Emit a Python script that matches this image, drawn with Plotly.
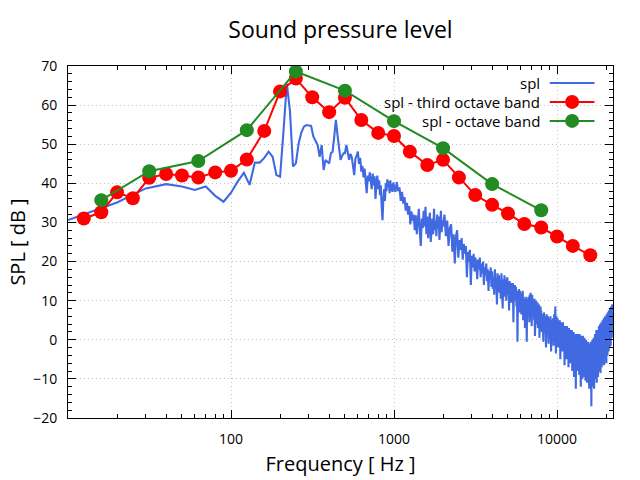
import numpy as np
import plotly.graph_objects as go

# ---------------- data ----------------
# narrow-band spectrum (10 Hz bins, decimated at higher frequencies)
spl_10_490 = [30.6, 35.1, 38.7, 39.8, 39.2, 38.3, 39.2, 36.8, 35.3, 37.6,
              40.5, 42.7, 39.6, 45.3, 45.3, 46.5, 48.1, 46.8, 42.1, 41.7,
              53.5, 65.5, 58.5, 44.3, 45.1, 50.2, 53.0, 54.5, 54.9, 54.8,
              54.7, 52.0, 50.7, 49.8, 46.8, 49.8, 43.4, 46.0, 45.5, 45.1,
              47.7, 48.1, 52.0, 56.2, 52.4, 49.0, 46.0, 47.0, 47.7]
spl_500_990 = [47.7, 49.8, 48.0, 46.0, 47.5, 46.8, 44.5, 42.1, 46.4, 47.0,
               48.1, 45.0, 46.5, 43.0, 44.5, 41.5, 43.8, 39.0, 37.5, 42.0,
               40.5, 42.8, 41.0, 38.5, 42.5, 39.5, 41.8, 36.0, 40.0, 42.0,
               38.5, 40.8, 37.0, 39.5, 34.0, 30.6, 36.0, 38.5, 35.5, 40.0,
               38.0, 41.0, 39.0, 40.5, 37.5, 40.8, 38.0, 39.8, 37.8, 40.2]
spl_1k_2k = [39.5, 37.8, 40.3, 38.0, 39.0, 35.5, 37.8, 34.8, 36.5, 33.0,
             35.0, 32.0, 34.2, 29.5, 32.8, 30.5, 32.0, 28.0, 31.8, 27.0,
             30.5, 33.5, 27.5, 24.0, 31.0, 28.5, 33.0, 29.0, 34.0, 27.0,
             31.5, 26.0, 30.0, 32.5, 25.0, 29.5, 31.0, 27.0, 33.5, 28.0,
             30.5, 26.5, 32.0, 28.5, 31.5, 25.5, 30.0, 33.0, 27.5, 30.5]
spl_2k_4k = [29.0, 32.0, 26.5, 30.5, 24.0, 28.5, 29.5, 22.5, 27.0, 19.5,
             26.5, 28.0, 21.0, 25.5, 23.0, 26.0, 20.5, 24.5, 22.0, 24.0,
             16.0, 22.5, 20.0, 23.0, 14.0, 21.5, 18.5, 22.0, 17.5, 21.0,
             19.0, 15.5, 20.5, 18.0, 21.0, 16.0, 19.5, 17.0, 20.0, 14.0,
             18.5, 16.5, 19.5, 15.0, 18.0, 12.5, 17.5, 15.5, 18.5, 13.5]
spl_4k_8k = [17.5, 13.0, 16.0, 11.5, 18.0, 14.0, 15.5, 9.0, 17.0, 12.5,
             16.5, 12.0, 15.0, 10.5, 17.0, 13.5, 8.0, 15.5, 11.0, 16.5,
             12.5, 15.5, 10.0, 14.5, 16.0, 11.5, 14.0, 7.5, 15.0, 12.0,
             14.5, 9.5, 13.5, 11.0, 14.5, 4.5, 13.0, 10.0, 14.0, 11.5,
             13.5, 8.5, 12.5, -0.5, 12.0, 9.5, 13.0, 7.0, 12.5, 10.0,
             12.0, 6.5, 11.5, 9.0, 12.5, 5.0, 11.0, 8.5, 10.5, 3.0,
             10.5, 7.5, 11.0, -0.5, 10.0, 6.0, 10.5, 8.0, 11.0, 4.5,
             11.5, 7.0, 12.0, 8.5, 11.0, 3.5, 11.5, 6.5, 10.5, 8.0,
             10.0, 5.0, 10.5, 1.0, 9.5, 6.5, 10.0, 4.0, 9.0, 6.0,
             9.5, 3.0, 8.5, 5.5, 9.0, 0.5, 8.0, 4.5, 8.5, 2.5]
spl_8k_16k = [7.5, 2.0, 6.5, -0.5, 7.0, 3.5, 6.0, -2.0, 6.5, 1.5,
              6.0, -1.0, 5.5, 2.5, 6.0, -3.0, 5.0, 1.0, 5.5, -1.5,
              6.5, 0.5, 8.5, -3.5, 6.0, 2.0, 5.5, -2.0, 5.0, 0.5,
              5.0, -5.0, 4.5, 0.0, 4.0, -3.0, 4.5, -1.0, 3.5, -6.5,
              3.5, -2.0, 3.0, -5.0, 3.5, -1.5, 2.5, -7.0, 3.0, -3.0,
              2.5, -6.0, 2.0, -2.5, 2.5, -8.0, 1.5, -4.0, 2.0, -9.5,
              1.5, -3.5, 1.0, -12.5, 1.5, -5.0, 0.5, -8.0, 1.5, -4.0,
              1.0, -9.0, 1.5, -3.0, 0.5, -12.0, 1.0, -6.0, 0.0, -10.0,
              1.0, -5.5, 0.0, -9.5, 0.5, -4.0, -0.5, -10.5, 0.0, -6.0,
              -0.5, -11.0, -1.0, -5.0, -0.5, -9.0, -1.0, -12.5, -1.5, -7.0]
spl_16k_22k = [-1.0, -11.0, -0.5, -17.0, -1.0, -7.0, 0.0, -12.0, -0.5, -8.5,
               0.5, -12.5, 1.0, -6.0, 1.5, -10.0, 2.0, -5.0, 2.5, -11.0,
               2.0, -6.5, 2.5, -9.5, 3.0, -4.0, 3.5, -8.0, 3.0, -3.5,
               4.0, -8.5, 3.5, -4.5, 4.5, -7.0, 4.0, -2.5, 5.0, -6.0,
               4.5, -3.0, 5.5, -6.5, 5.0, -2.0, 6.0, -5.0, 5.5, -1.5,
               6.0, -6.0, 6.5, -1.0, 6.0, -4.0, 7.0, 0.0, 6.5, -3.0,
               7.5, 0.5, 7.0, -2.0, 8.0, 1.0, 7.5, -1.5, 8.5, 2.0,
               8.0, 0.5, 9.0, 2.5, 8.5, 6.0]

# frequency bins for the segments above (Hz)
freq_segments = [
    np.arange(10, 500, 10),
    np.arange(500, 1000, 10),
    np.arange(1000, 2000, 20),
    np.arange(2000, 4000, 40),
    np.arange(4000, 8000, 40),
    np.arange(8000, 16000, 80),
    np.arange(16000, 22050, 80),
]
spl_segments = [spl_10_490, spl_500_990, spl_1k_2k, spl_2k_4k,
                spl_4k_8k, spl_8k_16k, spl_16k_22k]

third_oct_freq = [12.5, 16, 20, 25, 31.5, 40, 50, 63, 80, 100, 125, 160, 200,
                  250, 315, 400, 500, 630, 800, 1000, 1250, 1600, 2000, 2500,
                  3150, 4000, 5000, 6300, 8000, 10000, 12500, 16000]
third_oct_spl = [31.0, 32.6, 37.7, 36.2, 41.4, 42.4, 42.0, 41.5, 42.8, 43.2,
                 46.1, 53.4, 63.5, 66.8, 62.0, 58.2, 61.9, 56.2, 52.9, 52.1,
                 48.1, 44.7, 46.0, 41.5, 37.0, 34.5, 32.3, 29.6, 28.7, 26.4,
                 24.0, 21.6]

oct_freq = [16, 31.5, 63, 125, 250, 500, 1000, 2000, 4000, 8000]
oct_spl = [35.7, 43.1, 45.7, 53.6, 68.6, 63.7, 55.9, 49.0, 39.8, 33.1]

x_tick_vals = [100, 1000, 10000]
x_tick_text = ["100", "1000", "10000"]
x_minor_vals = [m * d for d in (10, 100, 1000) for m in range(2, 10)] + [20000]

legend_names = ["spl", "spl - third octave band", "spl - octave band"]

# ---------------- build ----------------
spl_freq = []
spl_val = []
for f, v in zip(freq_segments, spl_segments):
    n = min(len(f), len(v))
    spl_freq.extend([float(a) for a in f[:n]])
    spl_val.extend(v[:n])

BLUE = "#4169e1"
RED = "#ff0000"
GREEN = "#228b22"
FONT = "Open Sans"

fig = go.Figure()
fig.add_trace(go.Scatter(x=spl_freq, y=spl_val, mode="lines", name=legend_names[0],
                         line=dict(color=BLUE, width=2.1), showlegend=False))
fig.add_trace(go.Scatter(x=third_oct_freq, y=third_oct_spl, mode="lines+markers",
                         name=legend_names[1], line=dict(color=RED, width=2),
                         marker=dict(color=RED, size=14), showlegend=False))
fig.add_trace(go.Scatter(x=oct_freq, y=oct_spl, mode="lines+markers",
                         name=legend_names[2], line=dict(color=GREEN, width=2),
                         marker=dict(color=GREEN, size=14), showlegend=False))

# gnuplot-like key (text left of sample)
key_y = [0.952, 0.898, 0.844]
key_colors = [BLUE, RED, GREEN]
key_marker = [False, True, True]
shapes = []
annotations = []
for name, ky, col, mk in zip(legend_names, key_y, key_colors, key_marker):
    annotations.append(dict(x=0.869, y=ky, xref="paper", yref="paper", text=name,
                            showarrow=False, xanchor="right", yanchor="middle",
                            font=dict(family=FONT, size=15, color="black")))
    shapes.append(dict(type="line", xref="paper", yref="paper", x0=0.884, x1=0.966,
                       y0=ky, y1=ky, line=dict(color=col, width=2)))
    if mk:
        shapes.append(dict(type="circle", xref="paper", yref="paper",
                           xsizemode="pixel", ysizemode="pixel",
                           xanchor=0.925, yanchor=ky, x0=-7, x1=7, y0=-7, y1=7,
                           fillcolor=col, line=dict(width=0)))

axis_common = dict(showline=True, linecolor="black", linewidth=1, mirror="allticks",
                   ticks="inside", ticklen=8, tickcolor="black", tickwidth=1,
                   showgrid=True, gridcolor="#c4c4c4", griddash="1px,3px", gridwidth=1,
                   zeroline=False, automargin=False,
                   tickfont=dict(family=FONT, size=14, color="black"))

fig.update_layout(
    width=640, height=480,
    margin=dict(l=68, r=27, t=66, b=62),
    paper_bgcolor="white", plot_bgcolor="white",
    font=dict(family=FONT, color="black"),
    title=dict(text="Sound pressure level", x=0.532, xanchor="center",
               y=1 - 30 / 480, yanchor="middle", yref="container",
               font=dict(family=FONT, size=23, color="black")),
    xaxis=dict(type="log", range=[1, np.log10(22050)], tickmode="array",
               tickvals=x_tick_vals, ticktext=x_tick_text, ticklabelstandoff=8,
               minor=dict(tickmode="array", tickvals=x_minor_vals, ticks="inside",
                          ticklen=4, tickcolor="black", showgrid=False),
               title=dict(text="Frequency [ Hz ]", standoff=10,
                          font=dict(family=FONT, size=20, color="black")),
               **axis_common),
    yaxis=dict(range=[-20, 70], dtick=10, tick0=0, ticklabelstandoff=7,
               minor=dict(dtick=2, ticks="inside", ticklen=4, tickcolor="black",
                          showgrid=False),
               title=dict(text="SPL [ dB ]", standoff=2,
                          font=dict(family=FONT, size=20, color="black")),
               **axis_common),
    shapes=shapes,
    annotations=annotations,
    showlegend=False,
)

fig.write_html("out.html", config={"displayModeBar": False},
               post_script="document.body.style.margin='0';document.body.style.overflow='hidden';")
